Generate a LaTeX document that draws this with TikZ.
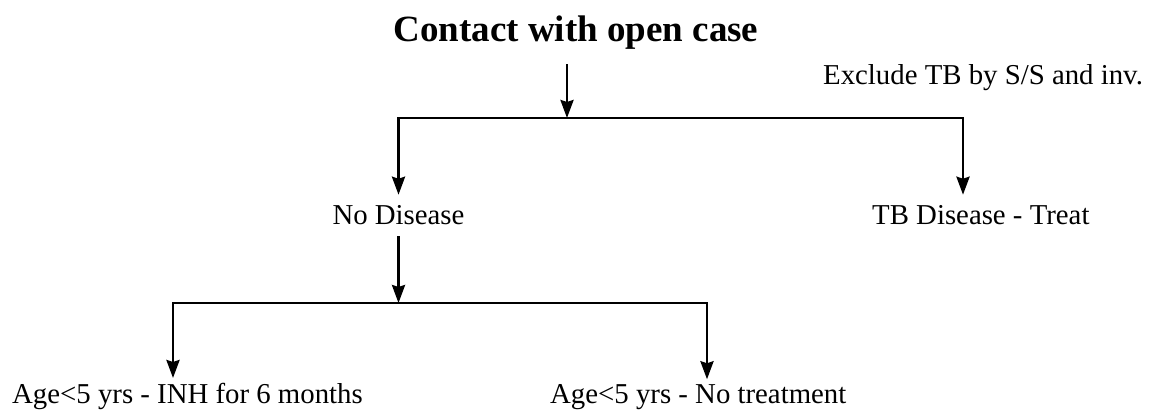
\documentclass[tikz,border=0pt]{standalone}
\usepackage{fontspec}
\setmainfont{Liberation Serif}
\usepackage{tikz}
\usetikzlibrary{arrows.meta,positioning,calc}
\tikzset{
  >={Stealth[length=18pt,width=13pt,inset=2pt]},
  ttl/.style={font=\fontsize{37}{44}\selectfont\bfseries,inner xsep=0pt,inner ysep=14pt},
  lbl/.style={font=\fontsize{28.8}{34}\selectfont,inner xsep=0pt,inner ysep=#1},
  lbl/.default=0pt,
  arr/.style={->,draw=black,line width=2.8pt},
  ln/.style={draw=black,line width=2.8pt,line cap=rect},
}
\begin{document}
\begin{tikzpicture}[x=1pt,y=-1pt]
\useasboundingbox (0,0) rectangle (1149,411);
% texts
\node[ttl,anchor=base] (contact) at (576,42) {Contact with open case};
\node[lbl,anchor=base west] (exclude) at (823,85) {Exclude TB by S/S and inv.};
\node[lbl=11pt,anchor=base] (nodis) at (398.5,225) {No Disease};
\node[lbl=11pt,anchor=base west] (tbdis) at (872,225) {TB Disease - Treat};
\node[lbl=5.5pt,anchor=base west] (inh) at (12,404) {Age<5 yrs - INH for 6 months};
\node[lbl=5.5pt,anchor=base west] (notreat) at (550,404) {Age<5 yrs - No treatment};
% branch points
\coordinate (split1) at (567,118);
\coordinate (l1) at (398.5,118);
\coordinate (r1) at (963,118);
\coordinate (split2) at (398.5,303);
\coordinate (l2) at (173,303);
\coordinate (r2) at (707,303);
% connectors
\draw[arr] (contact.south -| split1) -- (split1);
\draw[ln] (l1) -- (r1);
\draw[arr] (l1) -- (nodis.north);
\draw[arr] (r1) -- (r1 |- tbdis.north);
\draw[arr] (nodis.south) -- (split2);
\draw[ln] (l2) -- (r2);
\draw[arr] (l2) -- (l2 |- inh.north);
\draw[arr] (r2) -- (r2 |- notreat.north);
\end{tikzpicture}
\end{document}
